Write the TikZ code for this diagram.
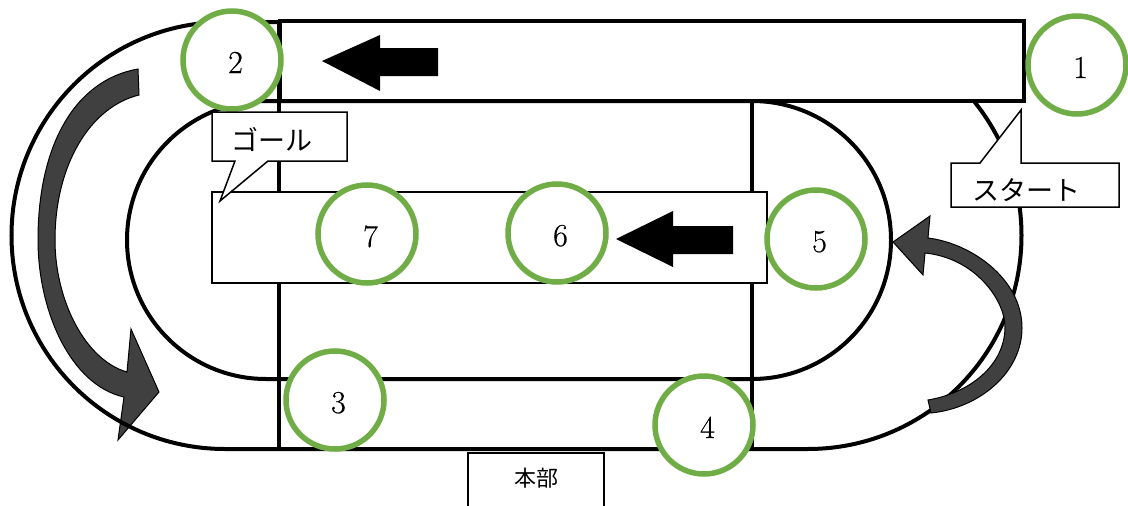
\documentclass[tikz,border=0pt]{standalone}
\usepackage{fontspec}
\newfontfamily\jpfont{Noto Sans CJK JP}
\newfontfamily\numfont[FakeBold=0.5]{Latin Modern Roman}
\definecolor{ringgreen}{HTML}{70AD47}
\definecolor{flowgray}{HTML}{404040}
\newcommand{\ringnum}[1]{\smash{\raisebox{-13pt}{\makebox[0pt]{\hspace{7pt}\numfont\fontsize{32}{38}\selectfont #1}}}}
\tikzset{
  trackline/.style={draw=black,line width=4pt},
  flowarrow/.style={draw=black,line width=1pt,fill=flowgray,line join=miter},
  blackarrow/.style={draw=none,fill=black},
  thinbox/.style={draw=black,line width=1.5pt,fill=white},
  ring/.style={circle,draw=ringgreen,line width=5.5pt,fill=white,inner sep=0pt,outer sep=0pt,minimum size=98pt},
  jptext/.style={inner sep=0pt,font=\jpfont\fontsize{#1}{#1}\selectfont}
}
\begin{document}
\begin{tikzpicture}[x=1pt,y=-1pt]
      \useasboundingbox (0,0) rectangle (1128,506);
      % arrow on the left lies under the track
      \draw[flowarrow] (138,69) .. controls (75,80) and (38,145) .. (38,240)
        .. controls (38,310) and (70,385) .. (124,397)
        -- (118,440) -- (159,392) -- (131,329) -- (127,372)
        .. controls (85,360) and (55,300) .. (55,240)
        .. controls (55,165) and (90,107) .. (139,95) -- cycle;
      % tracks
      \draw[trackline] (225,22) -- (808,22) arc[start angle=-90,end angle=90,radius=213.5]
        -- (225,449) arc[start angle=90,end angle=270,radius=213.5] -- cycle;
      \draw[trackline] (266,101) -- (752,101) arc[start angle=-90,end angle=90,radius=139]
        -- (266,379) arc[start angle=90,end angle=270,radius=139] -- cycle;
      \draw[trackline] (279,20) -- (279,451);
      \draw[trackline] (752,101) -- (752,451);
      % arrow on the right
      \draw[flowarrow] (928,238) .. controls (970,243) and (1022,278) .. (1022,328)
        .. controls (1022,372) and (980,408) .. (931,413)
        -- (928,400) .. controls (970,393) and (1005,365) .. (1005,327)
        .. controls (1005,300) and (975,258) .. (925,253)
        -- (923,275) -- (893,242) -- (930,216) -- cycle;
      % boxes
      \draw[draw=black,line width=4pt,fill=white] (280,21) rectangle (1024,101);
      \draw[thinbox] (212,192) rectangle (767,283);
      \draw[blackarrow] (322,61) -- (380,35) -- (380,48) -- (438,48) -- (438,76) -- (380,76) -- (380,91) -- cycle;
      \draw[blackarrow] (616,239) -- (673,211) -- (673,226) -- (733,226) -- (733,254) -- (673,254) -- (673,267) -- cycle;
      % numbered rings
      \draw
        (1077,65) node[ring] (n1) {\ringnum{1}}
        (232,60) node[ring] (n2) {\ringnum{2}}
        (335,400) node[ring] (n3) {\ringnum{3}}
        (704,425) node[ring] (n4) {\ringnum{4}}
        (816,239) node[ring] (n5) {\ringnum{5}}
        (557,233) node[ring] (n6) {\ringnum{6}}
        (367,234) node[ring] (n7) {\ringnum{7}};
      % callouts
      \draw[thinbox] (212,112) -- (347,112) -- (347,161) -- (268,161) -- (220,201) -- (235,161) -- (212,161) -- cycle;
      \draw[thinbox] (951,163) -- (980,163) -- (1021,110) -- (1021,163) -- (1119,163) -- (1119,207) -- (951,207) -- cycle;
      \draw[thinbox] (468,506) -- (468,453) -- (604,453) -- (604,506);
      \node[jptext=27] (goal) at (272,139) {ゴール};
      \node[jptext=27] (start) at (1026,190) {スタート};
      \node[jptext=22] (honbu) at (536,478) {本部};
    \end{tikzpicture}
\end{document}
